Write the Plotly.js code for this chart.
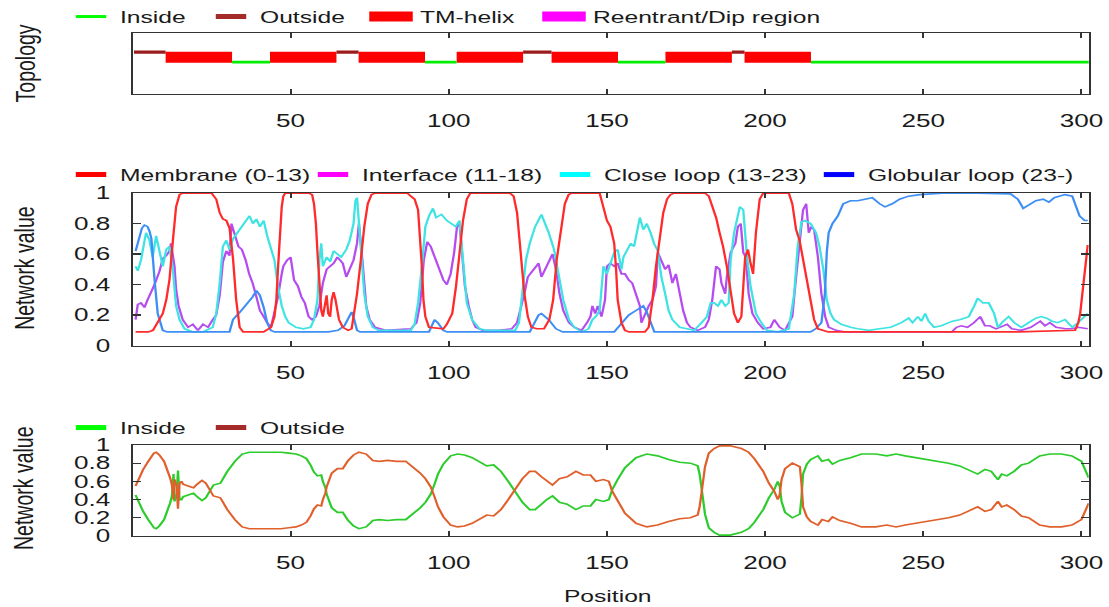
<!DOCTYPE html>
<html><head><meta charset="utf-8">
<script src="https://cdn.plot.ly/plotly-3.0.1.min.js"></script>
<style>
html,body{margin:0;padding:0;background:#fff;overflow:hidden;}
#wrap{width:1109px;height:607px;overflow:hidden;}
#chart{width:765px;height:607px;transform:scaleX(1.449673);transform-origin:0 0;}
</style></head><body><div id="wrap"><div id="chart"></div></div>
<script>
// ---------------- DATA ----------------
const xTicks = [50, 100, 150, 200, 250, 300];
const yTicks = [0, 0.2, 0.4, 0.6, 0.8, 1];

// Topology segments (residue ranges)
const topoStart = [1, 11, 32, 44, 65, 72, 93, 103, 124, 133, 154, 169, 190, 194, 215];
const topoEnd   = [10, 31, 43, 64, 71, 92, 102, 123, 132, 153, 168, 189, 193, 214, 302];
const topoType  = ['o','M','i','M','o','M','i','M','o','M','i','M','o','M','i'];

// Membrane (0-13)
const memPos = [1,5,6.5,7,8,9,9.6,10.7,11.7,12.8,13.8,14.9,16,25,26.5,27.6,28.6,29.7,30.7,31.8,32.8,33.9,35,41.5,43.8,44.9,45.5,46,46.6,47.2,47.7,48.3,55.7,56.8,57.4,58,58.5,59.1,59.7,60.2,60.8,61.4,61.9,62.5,63,63.6,64.2,65.3,66.5,68.2,69.3,69.9,71,72.2,73.3,74.4,75.6,76.7,86.9,88,89.2,90.3,90.9,91.5,92,92.6,93.75,98.3,99.4,101.1,102.3,103.4,104.5,105.7,106.8,119.3,120.5,121.6,122.7,123.9,125,126.1,127.8,130.1,131.8,133,134.1,135.6,136.7,137.9,138.9,147.7,148.9,150,151.1,152.3,152.9,153.4,154.6,155.7,157,162,163.2,164.4,165.5,166.7,167.8,169,170.1,171.3,181,182.2,183.3,184.5,185.6,186.7,187.9,189.1,190.2,191.4,192.5,193.7,194.6,195.4,196.2,197.1,198.3,199.4,207.5,208.6,209.8,210.9,212,213.2,214.4,215.5,216.7,218.4,220,240,260,280,298,299,299.6,300.4,300.8,301.3,301.8,302];
const memVal = [0.09,0.09,0.1,0.12,0.15,0.19,0.21,0.3,0.43,0.69,0.91,0.99,1,1,0.96,0.87,0.83,0.82,0.77,0.57,0.3,0.12,0.09,0.09,0.12,0.19,0.3,0.5,0.74,0.91,0.98,1,1,0.99,0.93,0.8,0.61,0.39,0.23,0.19,0.28,0.33,0.21,0.19,0.3,0.35,0.3,0.17,0.12,0.1,0.11,0.19,0.34,0.56,0.78,0.93,0.99,1,1,0.98,0.96,0.89,0.74,0.52,0.3,0.19,0.12,0.11,0.14,0.21,0.39,0.61,0.82,0.96,1,1,0.98,0.87,0.63,0.34,0.19,0.12,0.11,0.11,0.17,0.3,0.56,0.78,0.93,0.99,1,1,0.91,0.82,0.78,0.67,0.5,0.3,0.15,0.1,0.09,0.09,0.12,0.3,0.52,0.72,0.87,0.96,0.99,1,1,0.98,0.91,0.84,0.74,0.65,0.52,0.37,0.21,0.15,0.19,0.58,0.63,0.54,0.47,0.74,0.96,1,1,0.93,0.76,0.69,0.56,0.43,0.28,0.17,0.11,0.1,0.09,0.09,0.09,0.09,0.1,0.15,0.21,0.35,0.45,0.55,0.65,0.66];

// Interface (11-18)
const intPos = [1,1.7,2.7,3.8,4.8,5.9,7,8.6,9.6,10.7,11.7,12.2,13.3,13.8,14.6,15.9,17.6,19.1,20.7,22.3,23.9,25.4,26.5,27.6,28.6,29.7,30.7,31.3,31.8,32.8,33.5,34.6,35.8,36.9,38,39.2,40.3,41.5,42.6,43.8,44.9,46,47.2,47.7,48.9,50,51.1,52.3,53.4,54.5,55.7,56.8,58,59.1,60.2,61.4,62.5,63.6,64.8,66.5,67.6,68.7,69.9,71,71.6,72.7,73.9,75,76.7,80,88,89.8,91,92.1,93.2,94.3,95.5,96.6,98.3,99.4,100.6,101.7,102.6,103.4,104,105.1,106.3,107.4,108.5,110.8,116,119.9,121.6,122.7,123.9,125,126.7,128.4,129.3,130.5,131.6,132.8,133.9,135,136.2,138,139.7,142,143.7,144.8,145.4,146.3,147.1,148.3,149.4,150,151.1,152.3,153.4,154.6,155.7,156.9,158,159.2,160.4,160.9,162,163.2,164.4,165.5,166.1,167.2,168.4,169.5,170.7,171.8,173,174.1,175.3,176.4,178.7,181,182.2,183.3,184.5,185.6,186.2,187.4,187.9,189.1,190.6,191.4,192.3,193.1,193.9,194.8,196,197.7,199.4,201.7,202.9,204.6,206.3,208.6,209.8,210.9,212,213,213.8,214.6,215.5,216.7,217.8,219,220.1,222.4,225,259,260.5,262,264,266,268,269.5,271,273,276.5,278,281,284,287,288.5,290,292,295,297,299,302];
const intVal = [0.17,0.27,0.28,0.25,0.3,0.35,0.4,0.49,0.57,0.59,0.62,0.67,0.52,0.37,0.26,0.17,0.12,0.14,0.1,0.14,0.12,0.17,0.2,0.33,0.55,0.62,0.59,0.8,0.76,0.7,0.65,0.63,0.56,0.47,0.41,0.32,0.23,0.19,0.15,0.12,0.21,0.32,0.47,0.52,0.56,0.58,0.43,0.39,0.32,0.28,0.19,0.17,0.19,0.26,0.41,0.5,0.52,0.54,0.58,0.54,0.45,0.5,0.56,0.67,0.8,0.56,0.26,0.17,0.12,0.1,0.11,0.15,0.28,0.56,0.68,0.65,0.58,0.52,0.43,0.4,0.47,0.61,0.78,0.8,0.65,0.39,0.26,0.17,0.12,0.1,0.1,0.11,0.15,0.23,0.34,0.45,0.5,0.54,0.45,0.5,0.56,0.6,0.5,0.34,0.23,0.15,0.12,0.1,0.15,0.19,0.26,0.21,0.26,0.19,0.3,0.52,0.54,0.52,0.54,0.47,0.47,0.43,0.41,0.34,0.26,0.15,0.21,0.26,0.3,0.39,0.61,0.56,0.5,0.53,0.41,0.47,0.34,0.23,0.15,0.12,0.1,0.12,0.17,0.3,0.52,0.5,0.41,0.34,0.45,0.61,0.67,0.78,0.8,0.61,0.58,0.34,0.21,0.15,0.11,0.12,0.17,0.12,0.1,0.19,0.45,0.65,0.89,0.93,0.74,0.78,0.76,0.58,0.34,0.19,0.12,0.1,0.09,0.09,0.12,0.13,0.12,0.15,0.19,0.13,0.13,0.11,0.14,0.11,0.1,0.12,0.16,0.13,0.15,0.12,0.11,0.11,0.12,0.11];

// Close loop (13-23)
const closePos = [1,1.7,2.7,3.5,4.3,5.4,6.4,7.5,8.6,9.6,10.7,11.7,12.8,13.8,14.9,16.5,19.1,22.3,25.4,26.5,27.6,28.6,29.7,30.7,31.8,32.8,34.4,36,37,38.1,39.2,40.3,41.5,42.6,43.7,44.9,46,47.2,48.3,49.4,51.7,54,56.3,57.4,58.5,59.1,59.7,60.2,61.4,62.5,63.6,64.8,66,67.6,68.7,69.9,70.5,71,71.6,72.2,73.3,74.4,76,77.8,88,89.2,90.3,91.5,92.6,93.75,95,96,97.7,99.4,101,102.2,103.4,104.5,105.7,107.4,109.7,112,121,122.2,123.3,124.4,125.6,127.3,129.3,130.5,131.6,133.3,135,136.2,138,139.7,142,144.2,145.4,146.5,147.7,148.9,150,151.1,152.3,153.4,154.6,155.2,156.3,157.5,158.6,159.8,160.4,161.5,162.6,163.8,164.9,166.1,167.2,168.4,169.5,170.7,173,175.3,177.6,179.9,181.6,182.8,183.9,185.1,186.2,187.4,188.5,189.1,190.2,192,193.1,194.3,195.4,197.1,198.8,200.6,204,207.5,209.2,210.3,211.5,212.6,214.4,216.1,217.2,218.4,219.5,220.7,221.8,224.1,227,229.3,232.8,236.2,239.7,243.1,245.4,246.6,248.3,249.4,250.6,251.7,253.4,255.7,259.2,261.5,264.4,266.1,267.2,268.9,270.7,272.4,273.6,275.3,277,278.8,281,283.3,285.6,287.3,289,290.7,292.5,294.8,297.1,298.9,300.6,302];
const closeVal = [0.52,0.49,0.56,0.65,0.74,0.69,0.58,0.72,0.63,0.52,0.63,0.65,0.5,0.26,0.17,0.11,0.09,0.09,0.12,0.21,0.41,0.65,0.69,0.63,0.7,0.73,0.78,0.82,0.85,0.8,0.83,0.78,0.82,0.72,0.63,0.56,0.39,0.26,0.19,0.15,0.12,0.11,0.12,0.17,0.3,0.56,0.67,0.52,0.58,0.55,0.62,0.6,0.58,0.63,0.69,0.8,0.95,0.97,0.8,0.56,0.34,0.19,0.12,0.1,0.1,0.14,0.28,0.52,0.78,0.85,0.9,0.84,0.86,0.82,0.8,0.78,0.82,0.56,0.28,0.17,0.11,0.1,0.1,0.15,0.34,0.56,0.67,0.78,0.86,0.8,0.74,0.63,0.45,0.3,0.17,0.12,0.09,0.11,0.17,0.19,0.23,0.52,0.47,0.54,0.61,0.63,0.5,0.58,0.63,0.67,0.65,0.78,0.84,0.76,0.8,0.74,0.67,0.62,0.45,0.34,0.23,0.17,0.12,0.11,0.1,0.15,0.19,0.28,0.28,0.26,0.3,0.26,0.28,0.56,0.74,0.91,0.89,0.58,0.39,0.21,0.15,0.1,0.09,0.11,0.34,0.65,0.81,0.82,0.8,0.74,0.65,0.5,0.3,0.21,0.17,0.14,0.12,0.11,0.1,0.11,0.12,0.15,0.18,0.15,0.19,0.16,0.21,0.16,0.12,0.13,0.16,0.17,0.19,0.26,0.31,0.28,0.28,0.21,0.12,0.16,0.19,0.15,0.12,0.15,0.18,0.19,0.18,0.16,0.15,0.17,0.12,0.15,0.18,0.21];

// Globular loop (23-)
const globPos = [1,2,3,3.8,4.8,5.4,6,7,8,9.6,11,30.7,31.8,34,36,38,39.2,40.3,41.5,42.6,43.75,45,62,65,67,69.3,70,71,72,93.75,95.5,96.5,98.3,99.5,125.6,127,128.4,129.3,131.6,133.9,136,152.3,154.6,156.9,159.2,161.5,162.6,163.8,165,214.4,216,217.8,218.9,219.5,220.1,221.3,223,224.7,227,229.3,231.6,233.9,236.2,237.9,240.2,242.5,245.4,248.9,256,267.2,277.6,279.9,281.6,283.3,285.6,287.9,289.7,291.4,294.8,297.1,298.3,299.4,301,302];
const globVal = [0.62,0.7,0.77,0.79,0.78,0.75,0.7,0.43,0.21,0.1,0.09,0.09,0.17,0.22,0.27,0.32,0.36,0.33,0.25,0.15,0.1,0.09,0.09,0.1,0.13,0.22,0.18,0.1,0.09,0.09,0.17,0.15,0.1,0.09,0.09,0.15,0.2,0.21,0.17,0.11,0.09,0.09,0.15,0.2,0.23,0.26,0.22,0.15,0.09,0.09,0.11,0.15,0.34,0.61,0.74,0.8,0.85,0.93,0.95,0.95,0.96,0.97,0.93,0.91,0.93,0.96,0.98,0.99,1,1,0.995,0.96,0.9,0.92,0.95,0.96,0.94,0.97,0.99,0.98,0.91,0.85,0.82,0.82];

// Inside / Outside probabilities
const probPos = [1,2,3.4,5,6.8,7.5,8.5,10,11,11.9,12.5,13,13.3,14,14.4,14.9,15.5,16,17.6,19.3,20.5,22,23.2,24.4,25.6,27.8,30,32.4,34.7,37,47,49.4,51.7,53.4,55,56.3,57.4,58.5,59.7,60.2,61,61.4,63,64.8,66.5,68.2,69.9,71.6,73.9,76,78,80.7,83.5,86.4,88.6,91,92.6,94.3,95.5,96.6,98.3,100.6,102.8,105,107.4,109.7,112,114.2,116.5,118.8,121,123.3,125.6,127.3,129.3,131,132.8,135,137.4,140.2,142.5,144.8,146.5,148.9,150.6,151.7,153.4,155.7,159.2,162.6,166,169.5,173,176.4,178.7,179.3,179.9,180.5,181,182.2,183.9,185.6,189,192.5,194.8,196.6,198.3,199.4,201.2,202.9,204,204.6,205.2,206.3,208.6,211,211.5,212,213.2,214.4,216.7,218,220,221.3,223.6,227,230.5,235,238.5,241.4,244.3,247.8,251,254.5,258,261.5,265,267.2,269.5,271.5,273.6,274.8,276.4,278.7,281,283.3,286.8,290,293.7,297,300,301.7,302.3];
const insideProb = [0.45,0.37,0.27,0.18,0.09,0.08,0.11,0.18,0.26,0.36,0.44,0.68,0.38,0.45,0.72,0.4,0.4,0.43,0.45,0.47,0.43,0.39,0.42,0.5,0.56,0.58,0.71,0.82,0.9,0.92,0.92,0.91,0.9,0.88,0.85,0.78,0.7,0.66,0.67,0.6,0.53,0.46,0.31,0.26,0.26,0.17,0.11,0.08,0.1,0.17,0.18,0.17,0.18,0.18,0.24,0.31,0.37,0.46,0.57,0.68,0.79,0.88,0.9,0.89,0.86,0.81,0.77,0.78,0.71,0.6,0.48,0.37,0.29,0.29,0.35,0.4,0.44,0.37,0.35,0.29,0.33,0.33,0.4,0.38,0.4,0.51,0.62,0.75,0.86,0.9,0.88,0.84,0.81,0.8,0.77,0.68,0.53,0.4,0.24,0.09,0.04,0.01,0.01,0.04,0.08,0.15,0.24,0.29,0.42,0.51,0.6,0.55,0.38,0.26,0.2,0.24,0.42,0.68,0.79,0.84,0.88,0.82,0.84,0.79,0.83,0.86,0.9,0.9,0.88,0.9,0.88,0.86,0.84,0.82,0.8,0.77,0.71,0.68,0.73,0.71,0.62,0.68,0.66,0.71,0.78,0.8,0.88,0.9,0.9,0.88,0.82,0.68,0.64];
const outsideProb = [0.55,0.63,0.73,0.82,0.91,0.92,0.89,0.82,0.74,0.64,0.56,0.4,0.62,0.55,0.3,0.58,0.6,0.57,0.55,0.53,0.57,0.61,0.58,0.5,0.44,0.42,0.29,0.18,0.1,0.08,0.08,0.09,0.1,0.12,0.15,0.22,0.3,0.34,0.33,0.4,0.47,0.54,0.69,0.74,0.74,0.83,0.89,0.92,0.9,0.83,0.82,0.83,0.82,0.82,0.76,0.69,0.63,0.54,0.43,0.32,0.21,0.12,0.1,0.11,0.14,0.19,0.23,0.22,0.29,0.4,0.52,0.63,0.71,0.71,0.65,0.6,0.56,0.63,0.65,0.71,0.67,0.67,0.6,0.62,0.6,0.49,0.38,0.25,0.14,0.1,0.12,0.16,0.19,0.2,0.23,0.32,0.47,0.6,0.76,0.91,0.96,0.99,0.99,0.96,0.92,0.85,0.76,0.71,0.58,0.49,0.4,0.45,0.62,0.74,0.8,0.76,0.58,0.32,0.21,0.16,0.12,0.18,0.16,0.21,0.17,0.14,0.1,0.1,0.12,0.1,0.12,0.14,0.16,0.18,0.2,0.23,0.29,0.32,0.27,0.29,0.38,0.32,0.34,0.29,0.22,0.2,0.12,0.1,0.1,0.12,0.18,0.32,0.36];

// ---------------- LAYOUT GEOMETRY ----------------
const SX = 1109 / 765, W = 765, H = 607;
const ML = 133.5 / SX, MR = W - 1088 / SX, MT = 33.3, MB = H - 536;
const PW = W - ML - MR, PH = H - MT - MB;
const xPaper = xo => (xo / SX - ML) / PW;
const yPaper = yo => (H - MB - yo) / PH;
const FONT = 'Liberation Sans, Arial, sans-serif';
const TXT = '#1a1a1a';
const INSIDE_Y = 0.52, OUTSIDE_Y = 0.685, BOX_LO = 0.51, BOX_HI = 0.69;

// ---------------- TRACES ----------------
const traces = [];
function segLine(type, level) {
  const x = [], y = [];
  topoType.forEach((t, k) => {
    if (t === type) { x.push(topoStart[k] - 0.5, topoEnd[k] + 0.5, null); y.push(level, level, null); }
  });
  return {x, y};
}
const tmX = [], tmY = [];
topoType.forEach((t, k) => {
  if (t === 'M') {
    const a = topoStart[k] - 0.5, b = topoEnd[k] + 0.5;
    tmX.push(a, b, b, a, a, null); tmY.push(BOX_LO, BOX_LO, BOX_HI, BOX_HI, BOX_LO, null);
  }
});
const ins = segLine('i', INSIDE_Y), outs = segLine('o', OUTSIDE_Y);
traces.push({x: tmX, y: tmY, xaxis: 'x', yaxis: 'y', mode: 'lines', fill: 'toself', fillcolor: '#ff0000', line: {width: 0, color: '#ff0000'}, showlegend: false, hoverinfo: 'skip'});
traces.push({x: ins.x, y: ins.y, xaxis: 'x', yaxis: 'y', mode: 'lines', line: {color: '#00ee00', width: 2.7}, showlegend: false});
traces.push({x: outs.x, y: outs.y, xaxis: 'x', yaxis: 'y', mode: 'lines', line: {color: '#9b1c1c', width: 3.3}, showlegend: false});

// panel 2
traces.push({x: intPos, y: intVal, xaxis: 'x2', yaxis: 'y2', mode: 'lines', line: {color: '#b54cf0', width: 1.6}, showlegend: false});
traces.push({x: closePos, y: closeVal, xaxis: 'x2', yaxis: 'y2', mode: 'lines', line: {color: '#3fe3e3', width: 1.6}, showlegend: false});
traces.push({x: globPos, y: globVal, xaxis: 'x2', yaxis: 'y2', mode: 'lines', line: {color: '#3d8ef5', width: 1.6}, showlegend: false});
traces.push({x: memPos, y: memVal, xaxis: 'x2', yaxis: 'y2', mode: 'lines', line: {color: '#ff2a2a', width: 1.6}, showlegend: false});

// panel 3
traces.push({x: probPos, y: insideProb, xaxis: 'x3', yaxis: 'y3', mode: 'lines', line: {color: '#2ccc2c', width: 1.6}, showlegend: false});
traces.push({x: probPos, y: outsideProb, xaxis: 'x3', yaxis: 'y3', mode: 'lines', line: {color: '#e0602c', width: 1.6}, showlegend: false});

// legend entries: [name, color, kind, thickness, text start x (px), centre y (px)]
const legendItems = [
  ['Inside', '#00ff00', 'm', 3, 120, 17],
  ['Outside', '#a52a2a', 'm', 5, 260, 17],
  ['TM-helix', '#ff0000', 'l', 10, 420, 17],
  ['Reentrant/Dip region', '#ff00ff', 'l', 10, 593, 17],
  ['Membrane (0-13)', '#ff0000', 'm', 5, 120, 175],
  ['Interface (11-18)', '#ff00ff', 'm', 5, 362, 175],
  ['Close loop (13-23)', '#00ffff', 'm', 5, 604, 175],
  ['Globular loop (23-)', '#0000ff', 'm', 5, 868, 175],
  ['Inside', '#00ff00', 'm', 5, 120, 428],
  ['Outside', '#a52a2a', 'm', 5, 260, 428]
];
const layout = {
  width: W, height: H,
  margin: {l: ML, r: MR, t: MT, b: MB, pad: 0, autoexpand: false},
  paper_bgcolor: '#fff', plot_bgcolor: '#fff',
  font: {family: FONT, size: 17, color: TXT},
  showlegend: true,
  annotations: []
};
legendItems.forEach((it, k) => {
  const key = k === 0 ? 'legend' : 'legend' + (k + 1);
  const tr = {x: [null], y: [null], xaxis: 'x', yaxis: 'y', name: it[0], legend: key, showlegend: true, hoverinfo: 'skip'};
  if (it[2] === 'm') {
    tr.mode = 'markers';
    tr.marker = {symbol: 'line-ew', size: 15, color: it[1], line: {width: it[3], color: it[1]}};
  } else {
    tr.mode = 'lines';
    tr.line = {width: it[3], color: it[1]};
  }
  traces.push(tr);
  layout[key] = {
    xref: 'container', yref: 'container',
    x: (it[4] / SX - 40) / W, y: 1 - it[5] / H,
    xanchor: 'left', yanchor: 'middle',
    orientation: 'h', bgcolor: 'rgba(0,0,0,0)', borderwidth: 0,
    font: {family: FONT, size: 17, color: TXT}, itemclick: false, itemdoubleclick: false
  };
});

const xCommon = {
  range: [0.3, 302.3], tickvals: xTicks, ticks: 'inside', ticklen: 5, tickwidth: 1.3, tickcolor: '#333',
  showline: true, linecolor: '#333', linewidth: 1.4, mirror: 'ticks', showgrid: false, zeroline: false,
  tickfont: {family: FONT, size: 18, color: TXT}, ticklabelstandoff: 10, fixedrange: true, automargin: false
};
const yCommon = {
  range: [0, 1], tickvals: yTicks, ticks: 'inside', ticklen: 5.5, tickwidth: 1.3, tickcolor: '#333',
  showline: true, linecolor: '#333', linewidth: 1.4, mirror: 'ticks', showgrid: false, zeroline: false,
  tickfont: {family: FONT, size: 18, color: TXT}, ticklabelstandoff: 11, fixedrange: true, automargin: false
};
layout.xaxis = Object.assign({}, xCommon, {anchor: 'y', domain: [0, 1]});
layout.xaxis2 = Object.assign({}, xCommon, {anchor: 'y2', domain: [0, 1]});
layout.xaxis3 = Object.assign({}, xCommon, {anchor: 'y3', domain: [0, 1]});
layout.yaxis = Object.assign({}, yCommon, {anchor: 'x', domain: [yPaper(94), yPaper(33.3)], ticks: '', showticklabels: false, mirror: true});
layout.yaxis2 = Object.assign({}, yCommon, {anchor: 'x2', domain: [yPaper(345.7), yPaper(193.3)]});
layout.yaxis3 = Object.assign({}, yCommon, {anchor: 'x3', domain: [yPaper(536), yPaper(445)]});

const titleFont = {family: FONT, size: 19.5, color: TXT};
layout.annotations.push(
  {text: 'Topology', xref: 'paper', yref: 'paper', x: xPaper(24.5), y: yPaper(64), textangle: -90, showarrow: false, font: titleFont, xanchor: 'center', yanchor: 'middle'},
  {text: 'Network value', xref: 'paper', yref: 'paper', x: xPaper(23.5), y: yPaper(268), textangle: -90, showarrow: false, font: titleFont, xanchor: 'center', yanchor: 'middle'},
  {text: 'Network value', xref: 'paper', yref: 'paper', x: xPaper(23.5), y: yPaper(488), textangle: -90, showarrow: false, font: titleFont, xanchor: 'center', yanchor: 'middle'},
  {text: 'Position', xref: 'paper', yref: 'paper', x: xPaper(606.7), y: yPaper(596), showarrow: false, font: {family: FONT, size: 17, color: TXT}, xanchor: 'center', yanchor: 'middle'}
);

Plotly.newPlot('chart', traces, layout, {displayModeBar: false, staticPlot: true});
</script></body></html>
